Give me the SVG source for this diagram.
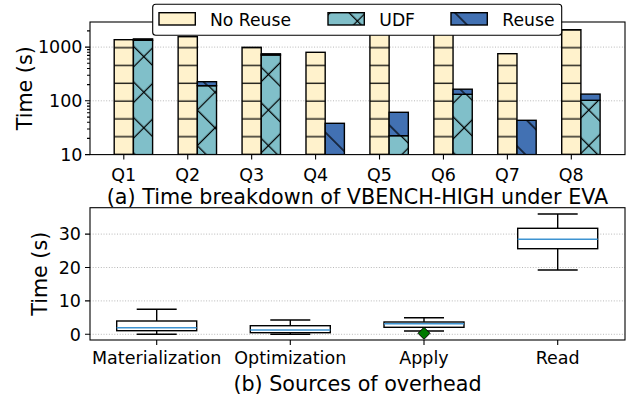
<svg xmlns="http://www.w3.org/2000/svg" width="639" height="398" viewBox="0 0 639 398">
  <style>
    text { font-family: "DejaVu Sans", "Liberation Sans", sans-serif; fill: #000; }
    .tick { font-size: 17.5px; }
    .lab { font-size: 20.7px; }
    .leg { font-size: 17.2px; }
    .grid { stroke: #b0b0b0; stroke-width: 0.9; stroke-dasharray: 1 1.7; fill: none; }
    .spine { fill: none; stroke: #000; stroke-width: 1.1; }
    .tk { stroke: #000; stroke-width: 1.1; }
    .bar { stroke: #000; stroke-width: 1.4; }
    .box { fill: #fff; stroke: #000; stroke-width: 1.4; }
    .wh { stroke: #000; stroke-width: 1.4; fill: none; }
    .med { stroke: #3d93d1; stroke-width: 1.5; }
  </style>
  <defs>
    <!-- horizontal hatch: No Reuse -->
    <pattern id="pNo" patternUnits="userSpaceOnUse" width="10" height="17.8">
      <rect width="10" height="17.8" fill="#fff2cc"/>
      <line x1="0" y1="12.1" x2="10" y2="12.1" stroke="#000" stroke-width="1.25"/>
    </pattern>
    <!-- cross hatch: UDF -->
    <pattern id="pUdf" patternUnits="userSpaceOnUse" width="25.17" height="25.17" patternTransform="rotate(45)">
      <rect x="-1" y="-1" width="27.17" height="27.17" fill="#80bfc9"/>
      <line x1="15.91" y1="-1" x2="15.91" y2="26.17" stroke="#000" stroke-width="1.25"/>
      <line x1="-1" y1="13.86" x2="26.17" y2="13.86" stroke="#000" stroke-width="1.25"/>
    </pattern>
    <!-- back-diagonal hatch: Reuse -->
    <pattern id="pReu" patternUnits="userSpaceOnUse" width="25.17" height="25.17" patternTransform="rotate(45)">
      <rect x="-1" y="-1" width="27.17" height="27.17" fill="#4271b3"/>
      <line x1="-1" y1="14.56" x2="26.17" y2="14.56" stroke="#000" stroke-width="1.25"/>
    </pattern>
    <clipPath id="clipTop"><rect x="90" y="22" width="535" height="132.6"/></clipPath>
  </defs>

  <!-- ===== (a) time breakdown, log scale ===== -->
  <g id="top-grid">
    <line class="grid" x1="90" y1="47.1" x2="625" y2="47.1"/>
    <line class="grid" x1="90" y1="100.8" x2="625" y2="100.8"/>
  </g>

  <g id="bars" clip-path="url(#clipTop)">
    <g id="q1">
      <rect class="bar" x="114.2" y="39.7" width="19.2" height="114.9" fill="url(#pNo)"/>
      <rect class="bar" x="133.4" y="40.3" width="19.2" height="114.3" fill="url(#pUdf)"/>
      <rect class="bar" x="133.4" y="38.9" width="19.2" height="1.4" fill="url(#pReu)"/>
    </g>
    <g id="q2">
      <rect class="bar" x="178.13" y="36.7" width="19.2" height="117.9" fill="url(#pNo)"/>
      <rect class="bar" x="197.33" y="85.7" width="19.2" height="68.9" fill="url(#pUdf)"/>
      <rect class="bar" x="197.33" y="81.7" width="19.2" height="4" fill="url(#pReu)"/>
    </g>
    <g id="q3">
      <rect class="bar" x="242.06" y="47.3" width="19.2" height="107.3" fill="url(#pNo)"/>
      <rect class="bar" x="261.26" y="55" width="19.2" height="99.6" fill="url(#pUdf)"/>
      <rect class="bar" x="261.26" y="53.8" width="19.2" height="1.2" fill="url(#pReu)"/>
    </g>
    <g id="q4">
      <rect class="bar" x="305.99" y="52.3" width="19.2" height="102.3" fill="url(#pNo)"/>
      <rect class="bar" x="325.19" y="123.3" width="19.2" height="31.3" fill="url(#pReu)"/>
    </g>
    <g id="q5">
      <rect class="bar" x="369.92" y="28" width="19.2" height="126.6" fill="url(#pNo)"/>
      <rect class="bar" x="389.12" y="135.7" width="19.2" height="18.9" fill="url(#pUdf)"/>
      <rect class="bar" x="389.12" y="112.3" width="19.2" height="23.4" fill="url(#pReu)"/>
    </g>
    <g id="q6">
      <rect class="bar" x="433.85" y="28" width="19.2" height="126.6" fill="url(#pNo)"/>
      <rect class="bar" x="453.05" y="94.3" width="19.2" height="60.3" fill="url(#pUdf)"/>
      <rect class="bar" x="453.05" y="89.2" width="19.2" height="5.1" fill="url(#pReu)"/>
    </g>
    <g id="q7">
      <rect class="bar" x="497.78" y="53.7" width="19.2" height="100.9" fill="url(#pNo)"/>
      <rect class="bar" x="516.98" y="120.3" width="19.2" height="34.3" fill="url(#pReu)"/>
    </g>
    <g id="q8">
      <rect class="bar" x="561.71" y="29.7" width="19.2" height="124.9" fill="url(#pNo)"/>
      <rect class="bar" x="580.91" y="100.3" width="19.2" height="54.3" fill="url(#pUdf)"/>
      <rect class="bar" x="580.91" y="94.1" width="19.2" height="6.2" fill="url(#pReu)"/>
    </g>
  </g>

  <g id="top-axes">
    <rect class="spine" x="90" y="22" width="535" height="132.6"/>
    <!-- major y ticks -->
    <path class="tk" d="M85 154.6H90M85 100.8H90M85 47.1H90"/>
    <!-- minor y ticks -->
    <path class="tk" stroke-width="0.9" d="M87 138.4H90M87 129H90M87 122.3H90M87 117.1H90M87 112.8H90M87 109.2H90M87 106.1H90M87 103.3H90M87 84.6H90M87 75.2H90M87 68.5H90M87 63.3H90M87 59H90M87 55.4H90M87 52.3H90M87 49.6H90M87 30.9H90"/>
    <!-- x ticks -->
    <path class="tk" d="M123.8 154.6V159.6M187.73 154.6V159.6M251.66 154.6V159.6M315.59 154.6V159.6M379.52 154.6V159.6M443.45 154.6V159.6M507.38 154.6V159.6M571.31 154.6V159.6"/>
    <g class="tick" text-anchor="end">
      <text x="82.5" y="160.8">10</text>
      <text x="82.5" y="107">100</text>
      <text x="82.5" y="53.3">1000</text>
    </g>
    <g class="tick" text-anchor="middle">
      <text x="123.8" y="180.8">Q1</text>
      <text x="187.73" y="180.8">Q2</text>
      <text x="251.66" y="180.8">Q3</text>
      <text x="315.59" y="180.8">Q4</text>
      <text x="379.52" y="180.8">Q5</text>
      <text x="443.45" y="180.8">Q6</text>
      <text x="507.38" y="180.8">Q7</text>
      <text x="571.31" y="180.8">Q8</text>
    </g>
    <text class="lab" transform="translate(31.8 88.3) rotate(-90)" text-anchor="middle">Time (s)</text>
    <text class="lab" x="357.5" y="204.4" text-anchor="middle">(a) Time breakdown of VBENCH-HIGH under EVA</text>
  </g>

  <g id="legend">
    <rect x="152.7" y="4.3" width="409" height="31" rx="3" ry="3" fill="#fff" stroke="#000" stroke-width="1.1"/>
    <rect class="bar" x="159" y="12.7" width="36.3" height="12.3" fill="url(#pNo)"/>
    <text class="leg" x="210" y="25.7">No Reuse</text>
    <rect class="bar" x="328" y="12.7" width="36.3" height="12.3" fill="url(#pUdf)"/>
    <text class="leg" x="379.3" y="25.7">UDF</text>
    <rect class="bar" x="451" y="12.7" width="36.3" height="12.3" fill="url(#pReu)"/>
    <text class="leg" x="502.3" y="25.7">Reuse</text>
  </g>

  <!-- ===== (b) sources of overhead, box plots ===== -->
  <g id="bottom-grid">
    <line class="grid" x1="90" y1="334.3" x2="625" y2="334.3"/>
    <line class="grid" x1="90" y1="300.9" x2="625" y2="300.9"/>
    <line class="grid" x1="90" y1="267.5" x2="625" y2="267.5"/>
    <line class="grid" x1="90" y1="234.1" x2="625" y2="234.1"/>
  </g>

  <g id="materialization">
    <path class="wh" d="M156.7 321V309.3M136.7 309.3H176.7M156.7 330.7V334.3M136.7 334.3H176.7"/>
    <rect class="box" x="116.7" y="321" width="80" height="9.7"/>
    <line class="med" x1="116.7" y1="327.7" x2="196.7" y2="327.7"/>
  </g>
  <g id="optimization">
    <path class="wh" d="M290.3 325.7V320M270.3 320H310.3M290.3 332.7V334.3M270.3 334.3H310.3"/>
    <rect class="box" x="250.3" y="325.7" width="80" height="7"/>
    <line class="med" x1="250.3" y1="330" x2="330.3" y2="330"/>
  </g>
  <g id="apply">
    <path class="wh" d="M424 322V317.7M404 317.7H444M424 327.3V331M404 331H444"/>
    <rect class="box" x="384" y="322" width="80" height="5.3"/>
    <line class="med" x1="384" y1="323.8" x2="464" y2="323.8"/>
    <path d="M424 327.3L430 333.3L424 339.3L418 333.3Z" fill="#007a00" stroke="#000" stroke-width="1"/>
  </g>
  <g id="read">
    <path class="wh" d="M557.7 228.3V214M537.7 214H577.7M557.7 248.7V270M537.7 270H577.7"/>
    <rect class="box" x="517.7" y="228.3" width="80" height="20.4"/>
    <line class="med" x1="517.7" y1="239.3" x2="597.7" y2="239.3"/>
  </g>

  <g id="bottom-axes">
    <rect class="spine" x="90" y="207.7" width="535" height="132.3"/>
    <path class="tk" d="M85 334.3H90M85 300.9H90M85 267.5H90M85 234.1H90"/>
    <path class="tk" d="M156.7 340V345M290.3 340V345M424 340V345M557.7 340V345"/>
    <g class="tick" text-anchor="end">
      <text x="81" y="340.5">0</text>
      <text x="81" y="307.1">10</text>
      <text x="81" y="273.7">20</text>
      <text x="81" y="240.3">30</text>
    </g>
    <g class="tick" text-anchor="middle">
      <text x="156.7" y="364.3">Materialization</text>
      <text x="290.3" y="364.3">Optimization</text>
      <text x="424" y="364.3">Apply</text>
      <text x="557.7" y="364.3">Read</text>
    </g>
    <text class="lab" transform="translate(47 273.8) rotate(-90)" text-anchor="middle">Time (s)</text>
    <text class="lab" x="357.5" y="391" text-anchor="middle">(b) Sources of overhead</text>
  </g>
</svg>
